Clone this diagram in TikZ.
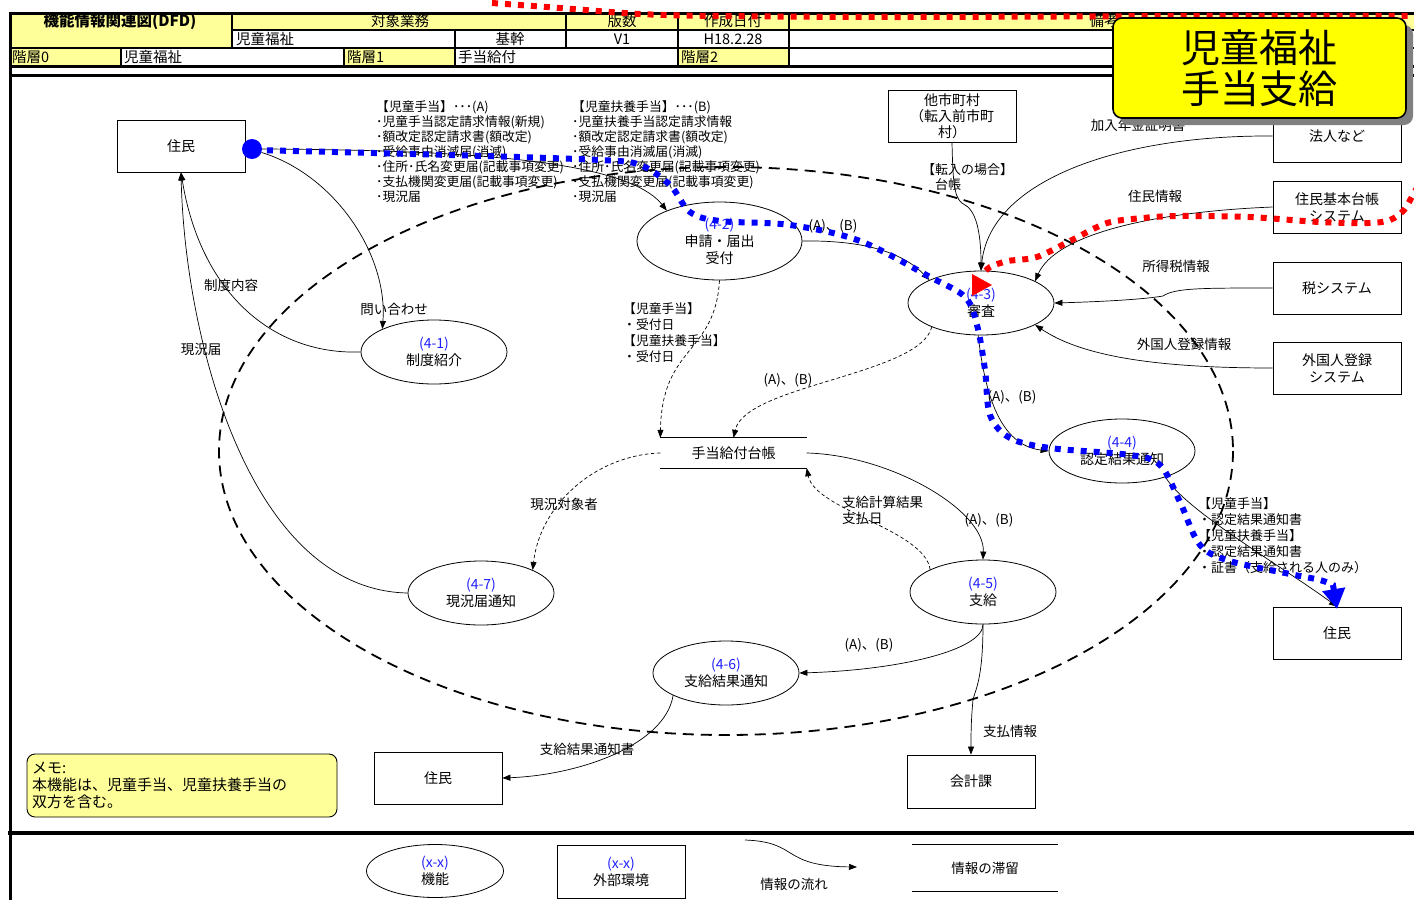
\documentclass[tikz,border=0pt]{standalone}
\usepackage{fontspec}
\setmainfont{Noto Sans CJK JP}
\usetikzlibrary{shapes.geometric,arrows.meta,shadows}
\definecolor{hdr}{HTML}{FFFF99}
\definecolor{memofill}{HTML}{FFFF99}
\definecolor{ttlfill}{HTML}{FFFF00}
\definecolor{idblue}{HTML}{2020FF}
\definecolor{pblue}{HTML}{0000FF}
\definecolor{pred}{HTML}{FF0000}
\newcommand{\fsz}[2]{\fontsize{#1}{#2}\selectfont}
\begin{document}
\begin{tikzpicture}[x=1pt,y=-1pt,
  every node/.style={inner sep=0pt, font=\fsz{13.5}{17}},
  ebox/.style={draw, line width=0.8pt, minimum width=128pt, minimum height=52pt, align=center, font=\fsz{14}{17}},
  fn/.style={ellipse, draw, line width=0.8pt, minimum width=146pt, minimum height=64pt, align=center, font=\fsz{14}{17}},
  flow/.style={line width=0.7pt, -{Triangle[length=8pt,width=6pt]}},
  dflow/.style={flow, dash pattern=on 3.5pt off 2.5pt},
  blk/.style={anchor=north west, align=left, font=\fsz{12.8}{15}},
  hd/.style={font=\fsz{14.5}{15}},
  hdl/.style={hd, anchor=west},
  bigline/.style={line width=3pt},
  thinline/.style={line width=1.2pt},
  boundary/.style={line width=1.8pt, dash pattern=on 11pt off 7pt},
  bluepath/.style={pblue, line width=6pt, dash pattern=on 6pt off 7pt},
  redpath/.style={pred, line width=6pt, dash pattern=on 6pt off 7pt},
]
\useasboundingbox (0,0) rectangle (1414,900);
\begin{scope}
\clip (0,0) rectangle (1414,900);
\fill[white] (0,0) rectangle (1414,900);
% ---------- header ----------
\fill[hdr] (10,13) rectangle (232,48);
\fill[hdr] (232,13) rectangle (1420,30);
\fill[hdr] (10,48) rectangle (121,66);
\fill[hdr] (344,48) rectangle (455,66);
\fill[hdr] (678,48) rectangle (789,66);
\draw[bigline] (10,13) -- (1420,13);
\draw[thinline] (232,30) -- (1420,30);
\draw[line width=1.6pt] (10,48) -- (1420,48);
\draw[bigline] (10,66) -- (1420,66);
\draw[bigline] (10,75) -- (1420,75);
\draw[line width=4pt] (8,833) -- (1420,833);
\draw[bigline] (10,11.5) -- (10,900);
\draw[thinline] (232,13) -- (232,48);
\draw[thinline] (566,13) -- (566,48);
\draw[thinline] (455,30) -- (455,66);
\draw[thinline] (678,13) -- (678,66);
\draw[thinline] (789,13) -- (789,66);
\draw[thinline] (121,48) -- (121,66);
\draw[thinline] (344,48) -- (344,66);
\node[font=\fsz{15.5}{16}\bfseries] (h0) at (120,21) {機能情報関連図(DFD)};
\node[hd] (h1) at (400,21) {対象業務};
\node[hd] (h2) at (622,21) {版数};
\node[hd] (h3) at (733,21) {作成日付};
\node[hd] (h4) at (1104,21) {備考};
\node[hdl] (h5) at (236,39) {児童福祉};
\node[hd] (h6) at (510,39) {基幹};
\node[hd] (h7) at (622,39) {V1};
\node[hd] (h8) at (733,39) {H18.2.28};
\node[hdl] (h9) at (12,57) {階層0};
\node[hdl] (h10) at (124,57) {児童福祉};
\node[hdl] (h11) at (347,57) {階層1};
\node[hdl] (h12) at (458,57) {手当給付};
\node[hdl] (h13) at (681,57) {階層2};
% ---------- system boundary ----------
\draw[boundary] (726,451) ellipse [x radius=507, y radius=284];
% ---------- external entities ----------
\node[ebox, font=\fsz{14}{16}] (res1) at (181,146) {住民};
\node[ebox, font=\fsz{14}{16}] (other) at (952,116) {他市町村\\（転入前市町\\村）};
\node[ebox] (corp) at (1337,136) {法人など};
\node[ebox] (juki) at (1337,207) {住民基本台帳\\システム};
\node[ebox] (tax) at (1337,288) {税システム};
\node[ebox] (alien) at (1337,368) {外国人登録\\システム};
\node[ebox] (res2) at (1337,633) {住民};
\node[ebox] (res3) at (438,778) {住民};
\node[ebox, minimum height=53pt] (acct) at (971,781.5) {会計課};
% ---------- functions ----------
\node[fn] (p1) at (434,352) {{\color{idblue}(4-1)}\\制度紹介};
\node[fn, minimum width=165pt, minimum height=78pt] (p2) at (719.5,241) {{\color{idblue}(4-2)}\\申請・届出\\受付};
\node[fn] (p3) at (981,303) {{\color{idblue}(4-3)}\\審査};
\node[fn] (p4) at (1122,451) {{\color{idblue}(4-4)}\\認定結果通知};
\node[fn] (p5) at (983,592) {{\color{idblue}(4-5)}\\支給};
\node[fn] (p6) at (726,673) {{\color{idblue}(4-6)}\\支給結果通知};
\node[fn] (p7) at (481,593) {{\color{idblue}(4-7)}\\現況届通知};
% ---------- data store ----------
\node[minimum width=146pt, minimum height=30pt, font=\fsz{14}{17}] (store) at (733.5,453) {手当給付台帳};
\draw[line width=0.8pt] (store.north west) -- (store.north east);
\draw[line width=0.8pt] (store.south west) -- (store.south east);
% ---------- start marker ----------
\node[circle, fill=pblue, minimum size=20pt] (dot) at (252,149) {};
% ---------- flows ----------
\draw[flow] (dot.east) .. controls (450,150) and (625,158) .. (p2.150);
\draw[flow] (dot.-20) .. controls (335,175) and (388,255) .. (p1.156);
\draw[flow] (p1.west) .. controls (270,355) and (200,290) .. (res1.south);
\draw[flow] (p7.west) .. controls (250,590) and (185,340) .. (res1.south);
\draw[flow] (p2.east) .. controls (870,240) and (905,255) .. (p3.156);
\draw[flow] (other.south) .. controls (953,190) and (955,200) .. (965,205) .. controls (978,212) and (981,240) .. (p3.north);
\draw[flow] (corp.west) .. controls (1120,135) and (990,180) .. (p3.north);
\draw[flow] (juki.west) .. controls (1150,212) and (1055,235) .. (p3.22);
\draw[flow] (tax.west) .. controls (1200,288) and (1175,288) .. (1163,296) .. controls (1140,300) and (1090,302) .. (p3.east);
\draw[flow] (alien.west) .. controls (1150,368) and (1080,355) .. (p3.-22);
\draw[flow] (p3.-95) .. controls (985,395) and (1000,445) .. (p4.west);
\draw[flow] (p4.-31) .. controls (1185,510) and (1280,565) .. (res2.north);
\draw[dflow] (p2.south) .. controls (715,355) and (662,345) .. (store.north west);
\draw[dflow] (p3.206) .. controls (920,375) and (745,385) .. (store.north);
\draw[dflow] (store.west) .. controls (595,455) and (540,505) .. (p7.24);
\draw[flow] (store.east) .. controls (890,455) and (985,510) .. (p5.north);
\draw[dflow] (p5.157) .. controls (925,530) and (815,510) .. (store.south east);
\draw[flow] (p5.south) .. controls (983,650) and (900,670) .. (p6.east);
\draw[flow] (p5.south) .. controls (983,680) and (975,690) .. (973,700) .. controls (971,720) and (971,735) .. (acct.north);
\draw[flow] (p6.203) .. controls (665,745) and (580,775) .. (res3.east);
% ---------- labels ----------
\node[blk] (ta) at (376,100) {【児童手当】･･･(A)\\･児童手当認定請求情報(新規)\\･額改定認定請求書(額改定)\\･受給事由消滅届(消滅)\\･住所･氏名変更届(記載事項変更)\\･支払機関変更届(記載事項変更)\\･現況届};
\node[blk] (tb) at (572,100) {【児童扶養手当】･･･(B)\\･児童扶養手当認定請求情報\\･額改定認定請求書(額改定)\\･受給事由消滅届(消滅)\\･住所･氏名変更届(記載事項変更)\\･支払機関変更届(記載事項変更)\\･現況届};
\node (l1) at (394,309) {問い合わせ};
\node (l2) at (231,285) {制度内容};
\node (l3) at (201,349) {現況届};
\node (l4) at (833,226) {(A)、(B)};
\node[anchor=north west, align=left, font=\fsz{13}{15}] (l5) at (922,163) {【転入の場合】\\\phantom{【}台帳};
\node (l6) at (1138,125) {加入年金証明書};
\node (l7) at (1155,196) {住民情報};
\node (l8) at (1176,266) {所得税情報};
\node (l9) at (1184,344) {外国人登録情報};
\node (l10) at (1012,397) {(A)、(B)};
\node[anchor=north west, align=left, font=\fsz{13}{16}] (l11) at (1198,497) {【児童手当】\\・認定結果通知書\\【児童扶養手当】\\・認定結果通知書\\・証書（支給される人のみ）};
\node[anchor=north west, align=left, font=\fsz{12.8}{16}] (l12) at (623,302) {【児童手当】\\・受付日\\【児童扶養手当】\\・受付日};
\node (l13) at (788,380) {(A)、(B)};
\node (l14) at (564,504) {現況対象者};
\node[anchor=north west, align=left, font=\fsz{13.5}{16}] (l15) at (842,496) {支給計算結果\\支払日};
\node (l16) at (989,520) {(A)、(B)};
\node (l17) at (869,645) {(A)、(B)};
\node (l18) at (1010,731) {支払情報};
\node (l19) at (587,749) {支給結果通知書};
% ---------- memo ----------
\node[draw, line width=0.9pt, fill=memofill, rounded corners=8pt, minimum width=310pt, minimum height=63pt, text width=300pt, align=left, font=\fsz{15}{17}] (memo) at (182,785.5) {メモ:\\本機能は、児童手当、児童扶養手当の\\双方を含む。};
% ---------- legend ----------
\node[fn, minimum width=137pt, minimum height=53pt] (lgf) at (435,871) {{\color{idblue}(x-x)}\\機能};
\node[ebox, minimum height=53pt] (lge) at (621,872) {{\color{idblue}(x-x)}\\外部環境};
\coordinate (la1) at (745,840);
\coordinate (la2) at (857,867);
\draw[flow] (la1) .. controls (800,842) and (780,866) .. (la2);
\node (lgt) at (794,884) {情報の流れ};
\node[minimum width=146pt, minimum height=46pt] (lgs) at (985,868) {情報の滞留};
\draw[line width=0.8pt] (lgs.north west) -- (lgs.north east);
\draw[line width=0.8pt] (lgs.south west) -- (lgs.south east);
% ---------- highlighted paths ----------
\draw[bluepath, -{Triangle[length=20pt,width=22pt]}] plot[smooth, tension=0.55] coordinates {(254,150) (450,155) (600,160) (640,165) (670,185) (690,212) (720,221) (790,225) (860,241) (930,277) (965,297) (977,325) (985,370) (990,415) (1010,438) (1050,448) (1130,455) (1160,465) (1180,502) (1200,545) (1230,561) (1290,574) (1320,580) (1333,585)} -- (1337,609);
\draw[redpath] plot[smooth, tension=0.5] coordinates {(492,3) (560,8) (640,14) (720,16) (900,17) (1200,16) (1440,16)};
\draw[redpath] plot[smooth, tension=0.5] coordinates {(1425,175) (1414,193) (1404,210) (1390,220) (1369,223) (1319,222) (1249,217) (1178,216) (1143,218) (1107,223) (1072,240) (1037,257) (1008,261) (990,267) (982,275)};
\fill[pred] (972,274) -- (992,285) -- (972,296) -- cycle;
% ---------- title ----------
\node[draw, line width=1.6pt, fill=ttlfill, rounded corners=9pt, minimum width=293pt, minimum height=100pt, align=center, font=\fsz{39}{41}, drop shadow={shadow xshift=7pt, shadow yshift=-7pt, fill=black!50, opacity=1}] (title) at (1259.5,68) {児童福祉\\手当支給};
\end{scope}
\end{tikzpicture}
\end{document}
